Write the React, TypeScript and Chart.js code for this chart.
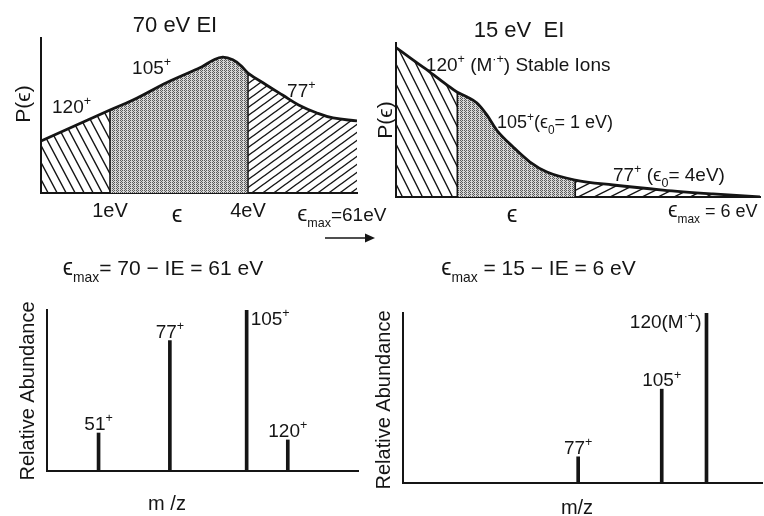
import React, { useEffect, useRef } from "react";
import { Chart, registerables } from "chart.js";

Chart.register(...registerables);

// ---------------- data ----------------
// 70 eV EI : internal-energy distribution P(ε) (schematic eV axis)
const energy70 = [-0.5, 1, 1.5, 2.25, 3, 3.24, 3.45, 3.67, 3.85, 4, 4.4, 4.75, 5.1, 5.5, 5.85, 6.37];
const prob70 = [0.335, 0.535, 0.6, 0.715, 0.815, 0.857, 0.877, 0.86, 0.82, 0.774, 0.697, 0.632, 0.568, 0.516, 0.484, 0.465];
// 15 eV EI
const energy15 = [-0.56, -0.13, 0.31, 0.74, 1, 1.25, 1.5, 1.76, 2, 2.42, 2.85, 3.28, 4, 4.96, 6.23, 7.5, 8.7];
const prob15 = [0.97, 0.89, 0.81, 0.727, 0.68, 0.65, 0.61, 0.53, 0.435, 0.325, 0.227, 0.162, 0.11, 0.078, 0.045, 0.02, 0];
// thresholds ε0 (eV) separating 120+ | 105+ | 77+
const thresholds = [1, 4];
const thresholdLabels = ["1eV", "4eV"];
// mass spectra
const mz70 = [51, 77, 105, 120];
const abund70 = [0.236, 0.81, 1.0, 0.193];
const ions70 = ["51", "77", "105", "120"];
const mz15 = [77, 105, 120];
const abund15 = [0.154, 0.552, 1.0];
const ions15 = ["77", "105", "120(M"];

// ---------------- helpers ----------------
type Part = { t: string; s?: "sup" | "sub"; k?: number };
const INK = "#151515";
const FAMILY = '"Liberation Sans", Arial, "DejaVu Sans", sans-serif';
const PLUS: Part = { t: "+", s: "sup" };

function partSize(p: Part, size: number) {
  return size * (p.k ?? 1) * (p.s ? 0.66 : 1);
}
function richWidth(ctx: CanvasRenderingContext2D, parts: Part[], size: number) {
  let w = 0;
  for (const p of parts) {
    ctx.font = `${partSize(p, size)}px ${FAMILY}`;
    w += ctx.measureText(p.t).width;
  }
  return w;
}
function drawRich(ctx: CanvasRenderingContext2D, parts: Part[], x: number, y: number, size: number, align = "left") {
  const w = richWidth(ctx, parts, size);
  let cx = align === "center" ? x - w / 2 : align === "right" ? x - w : x;
  ctx.save();
  ctx.textAlign = "left";
  ctx.textBaseline = "alphabetic";
  ctx.fillStyle = INK;
  for (const p of parts) {
    ctx.font = `${partSize(p, size)}px ${FAMILY}`;
    const dy = p.s === "sup" ? -size * 0.4 : p.s === "sub" ? size * 0.32 : 0;
    ctx.fillText(p.t, cx, y + dy);
    cx += ctx.measureText(p.t).width;
  }
  ctx.restore();
}

type Note = { at: "px" | "data" | "below"; x: number; y: number; size: number; parts: Part[]; align?: string; rotate?: boolean };

function drawNotes(chart: any, notes: Note[]) {
  const ctx = chart.ctx as CanvasRenderingContext2D;
  const xs = chart.scales.x;
  const ys = chart.scales.y;
  const area = chart.chartArea;
  for (const n of notes) {
    let px = n.x;
    let py = n.y;
    if (n.at === "data") {
      px = xs.getPixelForValue(n.x);
      py = ys.getPixelForValue(n.y);
    } else if (n.at === "below") {
      px = xs.getPixelForValue(n.x);
      py = area.bottom + n.y;
    }
    if (n.rotate) {
      ctx.save();
      ctx.translate(px, py);
      ctx.rotate(-Math.PI / 2);
      drawRich(ctx, n.parts, 0, n.size * 0.36, n.size, "center");
      ctx.restore();
    } else {
      drawRich(ctx, n.parts, px, py, n.size, n.align || "left");
    }
  }
}

function hatchPattern(ctx: CanvasRenderingContext2D, s: number, h: number, dir: number) {
  const c = document.createElement("canvas");
  c.width = s;
  c.height = h;
  const g = c.getContext("2d")!;
  g.strokeStyle = INK;
  g.lineWidth = 1.4;
  g.beginPath();
  for (const off of [-s, 0, s]) {
    if (dir > 0) {
      g.moveTo(off - s, -h);
      g.lineTo(off + 2 * s, 2 * h);
    } else {
      g.moveTo(off - s, 2 * h);
      g.lineTo(off + 2 * s, -h);
    }
  }
  g.stroke();
  return ctx.createPattern(c, "repeat")!;
}
function stipplePattern(ctx: CanvasRenderingContext2D) {
  const c = document.createElement("canvas");
  c.width = 4;
  c.height = 4;
  const g = c.getContext("2d")!;
  g.fillStyle = "#d6d6d6";
  g.fillRect(0, 0, 4, 4);
  g.fillStyle = "#5a5a5a";
  const dots = [
    [0, 0], [2, 0], [1, 1], [3, 1], [0, 2], [2, 2], [1, 3], [3, 3],
  ];
  dots.forEach(([x, y], i) => {
    if (i % 4 !== 3) g.fillRect(x, y, 1, 1);
  });
  return ctx.createPattern(c, "repeat")!;
}
function traceCurve(ctx: CanvasRenderingContext2D, pts: any[]) {
  ctx.moveTo(pts[0].x, pts[0].y);
  for (let i = 1; i < pts.length; i++) {
    const a = pts[i - 1];
    const b = pts[i];
    if (a.cp2x != null && b.cp1x != null) ctx.bezierCurveTo(a.cp2x, a.cp2y, b.cp1x, b.cp1y, b.x, b.y);
    else ctx.lineTo(b.x, b.y);
  }
}

const common = (pad: any) => ({
  responsive: false,
  maintainAspectRatio: false,
  animation: false,
  events: [],
  layout: { padding: pad, autoPadding: false },
  plugins: { legend: { display: false }, tooltip: { enabled: false }, title: { display: false } },
});
const axis = (min: number, max: number) => ({
  type: "linear",
  min,
  max,
  offset: false,
  z: 1,
  grid: { display: false, drawTicks: false },
  ticks: { display: false },
  border: { display: true, color: INK, width: 2 },
});

// ---------------- energy-distribution panels ----------------
type EnergySpec = {
  xs: number[];
  ys: number[];
  xMin: number;
  xMax: number;
  pad: any;
  monotone: boolean;
  hatchA: [number, number, number];
  hatchB: [number, number, number];
  notes: Note[];
  tickLabels: boolean;
  arrow: boolean;
};

function energyPlugin(spec: EnergySpec) {
  return {
    id: "energyRegions",
    beforeDatasetsDraw(chart: any) {
      const ctx = chart.ctx as CanvasRenderingContext2D;
      const meta = chart.getDatasetMeta(0);
      const line: any = meta.dataset;
      const pts: any[] = meta.data as any[];
      const area = chart.chartArea;
      const xs = chart.scales.x;
      if (line && typeof line.updateControlPoints === "function") line.updateControlPoints(area, "x");
      const fills = [
        hatchPattern(ctx, spec.hatchA[0], spec.hatchA[1], spec.hatchA[2]),
        stipplePattern(ctx),
        hatchPattern(ctx, spec.hatchB[0], spec.hatchB[1], spec.hatchB[2]),
      ];
      const edges = [spec.xMin, ...thresholds, spec.xMax];
      for (let r = 0; r < 3; r++) {
        const x0 = xs.getPixelForValue(edges[r]);
        const x1 = xs.getPixelForValue(edges[r + 1]);
        ctx.save();
        ctx.beginPath();
        ctx.rect(x0, area.top - 20, x1 - x0, area.bottom - area.top + 20);
        ctx.clip();
        ctx.beginPath();
        traceCurve(ctx, pts);
        ctx.lineTo(pts[pts.length - 1].x, area.bottom);
        ctx.lineTo(pts[0].x, area.bottom);
        ctx.closePath();
        ctx.fillStyle = fills[r];
        ctx.fill();
        ctx.restore();
      }
      ctx.save();
      ctx.strokeStyle = INK;
      ctx.lineWidth = 1.6;
      thresholds.forEach((t) => {
        const i = spec.xs.indexOf(t);
        if (i < 0) return;
        const p = pts[i];
        ctx.beginPath();
        ctx.moveTo(p.x, area.bottom);
        ctx.lineTo(p.x, p.y);
        ctx.stroke();
      });
      ctx.restore();
    },
    afterDraw(chart: any) {
      const ctx = chart.ctx as CanvasRenderingContext2D;
      const area = chart.chartArea;
      drawNotes(chart, spec.notes);
      if (spec.tickLabels) {
        drawNotes(
          chart,
          thresholds.map((t, i) => ({ at: "below", x: t, y: 24, size: 20, align: "center", parts: [{ t: thresholdLabels[i] }] }) as Note)
        );
      }
      if (spec.arrow) {
        const y = area.bottom + 45;
        const x0 = area.right - 32;
        const x1 = area.right + 18;
        ctx.save();
        ctx.strokeStyle = INK;
        ctx.fillStyle = INK;
        ctx.lineWidth = 1.6;
        ctx.beginPath();
        ctx.moveTo(x0, y);
        ctx.lineTo(x1 - 8, y);
        ctx.stroke();
        ctx.beginPath();
        ctx.moveTo(x1, y);
        ctx.lineTo(x1 - 10, y - 4.5);
        ctx.lineTo(x1 - 10, y + 4.5);
        ctx.closePath();
        ctx.fill();
        ctx.restore();
      }
    },
  };
}

function energyConfig(spec: EnergySpec): any {
  return {
    type: "line",
    data: {
      datasets: [
        {
          data: spec.xs.map((x, i) => ({ x, y: spec.ys[i] })),
          borderColor: INK,
          borderWidth: 2.8,
          pointRadius: 0,
          fill: false,
          ...(spec.monotone ? { cubicInterpolationMode: "monotone" } : { tension: 0.4 }),
        },
      ],
    },
    options: { ...common(spec.pad), scales: { x: axis(spec.xMin, spec.xMax), y: axis(0, 1) } },
    plugins: [energyPlugin(spec)],
  };
}

const top70: EnergySpec = {
  xs: energy70,
  ys: prob70,
  xMin: -0.5,
  xMax: 6.37,
  pad: { left: 41, top: 38, right: 43, bottom: 57 },
  monotone: false,
  hatchA: [9, 17, 1],
  hatchB: [11, 8, -1],
  tickLabels: true,
  arrow: true,
  notes: [
    { at: "px", x: 175, y: 32, size: 22, align: "center", parts: [{ t: "70 eV EI" }] },
    { at: "px", x: 22, y: 104, size: 21, rotate: true, parts: [{ t: "P(ϵ)" }] },
    { at: "data", x: -0.26, y: 0.516, size: 19, parts: [{ t: "120" }, PLUS] },
    { at: "data", x: 1.48, y: 0.768, size: 19, parts: [{ t: "105" }, PLUS] },
    { at: "data", x: 4.85, y: 0.62, size: 19, parts: [{ t: "77" }, PLUS] },
    { at: "below", x: 2.46, y: 29, size: 24, align: "center", parts: [{ t: "ϵ" }] },
    { at: "below", x: 5.07, y: 28, size: 19, parts: [{ t: "ϵ", k: 1.2 }, { t: "max", s: "sub" }, { t: "=61eV" }] },
  ],
};

const top15: EnergySpec = {
  xs: energy15,
  ys: prob15,
  xMin: -0.56,
  xMax: 8.7,
  pad: { left: 32, top: 43, right: 4, bottom: 53 },
  monotone: true,
  hatchA: [10, 20, 1],
  hatchB: [16, 8, -1],
  tickLabels: false,
  arrow: false,
  notes: [
    { at: "px", x: 155, y: 37, size: 22, align: "center", parts: [{ t: "15 eV  EI" }] },
    { at: "px", x: 20, y: 120, size: 21, rotate: true, parts: [{ t: "P(ϵ)" }] },
    {
      at: "data",
      x: 0.2,
      y: 0.818,
      size: 19,
      parts: [{ t: "120" }, PLUS, { t: " (M" }, { t: "·+", s: "sup" }, { t: ") Stable Ions" }],
    },
    { at: "data", x: 2.01, y: 0.448, size: 18, parts: [{ t: "105" }, PLUS, { t: "(ϵ" }, { t: "0", s: "sub" }, { t: "= 1 eV)" }] },
    { at: "data", x: 4.96, y: 0.104, size: 19, parts: [{ t: "77" }, PLUS, { t: " (ϵ" }, { t: "0", s: "sub" }, { t: "= 4eV)" }] },
    { at: "below", x: 2.39, y: 25, size: 24, align: "center", parts: [{ t: "ϵ" }] },
    { at: "below", x: 6.36, y: 20, size: 18, parts: [{ t: "ϵ", k: 1.2 }, { t: "max", s: "sub" }, { t: " = 6 eV" }] },
  ],
};

// ---------------- mass-spectrum panels ----------------
type SpecSpec = {
  mz: number[];
  ab: number[];
  labels: Part[][];
  place: string[];
  xMin: number;
  xMax: number;
  pad: any;
  notes: Note[];
};

function spectrumPlugin(spec: SpecSpec) {
  return {
    id: "spectrumText",
    afterDraw(chart: any) {
      const ctx = chart.ctx as CanvasRenderingContext2D;
      const meta = chart.getDatasetMeta(0);
      (meta.data as any[]).forEach((bar, i) => {
        const lab = spec.labels[i];
        const place = spec.place[i];
        if (place === "above") drawRich(ctx, lab, bar.x, bar.y - 3, 19, "center");
        else if (place === "right") drawRich(ctx, lab, bar.x + 4, bar.y + 15, 19, "left");
        else drawRich(ctx, lab, bar.x - 5, bar.y + 15, 19, "right");
      });
      drawNotes(chart, spec.notes);
    },
  };
}

function spectrumConfig(spec: SpecSpec): any {
  return {
    type: "bar",
    data: {
      datasets: [
        {
          data: spec.mz.map((m, i) => ({ x: m, y: spec.ab[i] })),
          backgroundColor: INK,
          borderWidth: 0,
          barThickness: 3,
        },
      ],
    },
    options: { ...common(spec.pad), scales: { x: axis(spec.xMin, spec.xMax), y: axis(0, 1) } },
    plugins: [spectrumPlugin(spec)],
  };
}

const bottom70: SpecSpec = {
  mz: mz70,
  ab: abund70,
  labels: ions70.map((s) => [{ t: s }, PLUS]),
  place: ["above", "above", "right", "above"],
  xMin: 32.2,
  xMax: 145.6,
  pad: { left: 47, top: 60, right: 14, bottom: 45 },
  notes: [
    {
      at: "px",
      x: 163,
      y: 25,
      size: 21,
      align: "center",
      parts: [{ t: "ϵ", k: 1.1 }, { t: "max", s: "sub" }, { t: "= 70 − IE = 61 eV" }],
    },
    { at: "px", x: 27, y: 141, size: 20, rotate: true, parts: [{ t: "Relative Abundance" }] },
    { at: "px", x: 167, y: 260, size: 20, align: "center", parts: [{ t: "m /z" }] },
  ],
};

const bottom15: SpecSpec = {
  mz: mz15,
  ab: abund15,
  labels: ions15.map((s, i) => (i === ions15.length - 1 ? [{ t: s }, { t: "·+", s: "sup" }, { t: ")" }] : [{ t: s }, PLUS])),
  place: ["above", "above", "left"],
  xMin: 18.3,
  xMax: 138.6,
  pad: { left: 39, top: 63, right: 2, bottom: 33 },
  notes: [
    {
      at: "px",
      x: 174.5,
      y: 25,
      size: 21,
      align: "center",
      parts: [{ t: "ϵ", k: 1.1 }, { t: "max", s: "sub" }, { t: " = 15 − IE = 6 eV" }],
    },
    { at: "px", x: 19, y: 150, size: 20, rotate: true, parts: [{ t: "Relative Abundance" }] },
    { at: "px", x: 213, y: 264, size: 20, align: "center", parts: [{ t: "m/z" }] },
  ],
};

// ---------------- components ----------------
function ChartBox(props: { left: number; top: number; width: number; height: number; make: () => any }) {
  const ref = useRef<HTMLCanvasElement>(null);
  useEffect(() => {
    const chart = new Chart(ref.current!, props.make());
    return () => chart.destroy();
  }, []);
  return (
    <canvas
      ref={ref}
      width={props.width}
      height={props.height}
      style={{ position: "absolute", left: props.left, top: props.top, width: props.width, height: props.height }}
    />
  );
}

export default function App() {
  return (
    <div style={{ position: "absolute", left: 0, top: 0, width: 764, height: 516, background: "#fff", overflow: "hidden" }}>
      <ChartBox left={0} top={0} width={400} height={250} make={() => energyConfig(top70)} />
      <ChartBox left={364} top={0} width={400} height={250} make={() => energyConfig(top15)} />
      <ChartBox left={0} top={250} width={372} height={266} make={() => spectrumConfig(bottom70)} />
      <ChartBox left={364} top={250} width={400} height={266} make={() => spectrumConfig(bottom15)} />
    </div>
  );
}
